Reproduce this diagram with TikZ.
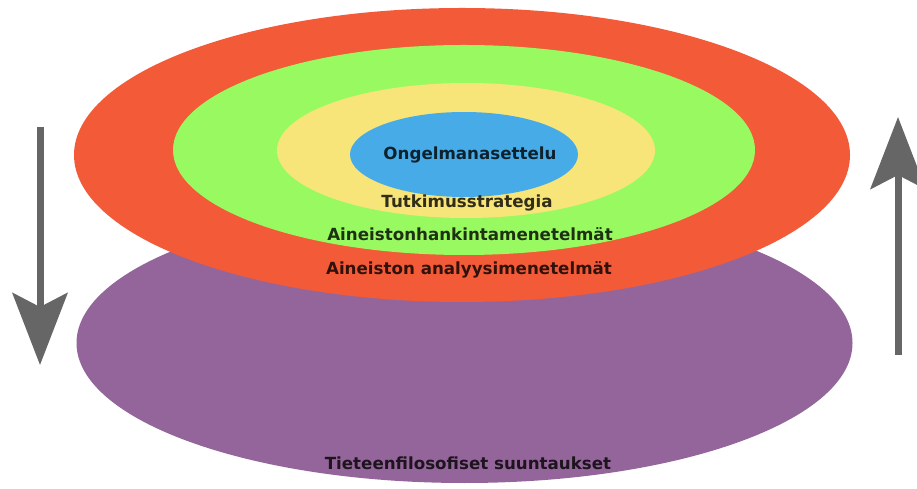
\documentclass[tikz,border=0pt]{standalone}
\usepackage{fontspec}
\setsansfont{DejaVu Sans}
\usetikzlibrary{arrows.meta}
\definecolor{tasoPun}{RGB}{242,90,56}
\definecolor{tasoVih}{RGB}{152,250,96}
\definecolor{tasoKel}{RGB}{247,229,122}
\definecolor{tasoSin}{RGB}{71,171,232}
\definecolor{tasoVio}{RGB}{148,101,154}
\definecolor{nuoli}{RGB}{102,102,102}

\begin{document}
\begin{tikzpicture}[
	lbl/.style={font=\sffamily\bfseries\fontsize{9.5}{11}\selectfont, text=black, text opacity=0.8, inner sep=0pt},
	isonuoli/.style={draw=nuoli, line width=0.14cm, -{Stealth[length=1.44cm, width=1.1cm, inset=0.28cm]}}
]
			%%%%% START %%%%%
			\useasboundingbox (0, 0) rectangle (18.34, 9.76);
			
			\fill[tasoVio] (9.29, 2.90) ellipse (7.76 and 2.80);
			
			\fill[tasoPun] (9.24, 6.66) ellipse (7.76 and 2.94);
			\fill[tasoVih] (9.28, 6.76) ellipse (5.82 and 2.10);
			\fill[tasoKel] (9.32, 6.75) ellipse (3.78 and 1.35);
			\fill[tasoSin] (9.28, 6.67) ellipse (2.28 and 0.85);
			
			\node[lbl] (ongelma) at (9.40, 6.66) {Ongelmanasettelu};
			\node[lbl] (strategia) at (9.34, 5.70) {Tutkimusstrategia};
			\node[lbl] (hankinta) at (9.40, 5.08) {Aineistonhankintamenetelmät};
			\node[lbl] (analyysi) at (9.38, 4.36) {Aineiston analyysimenetelmät};
			\node[lbl] (filosofia) at (9.36, 0.50) {Tieteenfilosofiset suuntaukset};
			
			\coordinate (alas-a) at (0.80, 7.22);
			\coordinate (alas-b) at (0.80, 2.46);
			\draw[isonuoli] (alas-a) -- (alas-b);
			
			\coordinate (ylos-a) at (17.96, 2.66);
			\coordinate (ylos-b) at (17.96, 7.42);
			\draw[isonuoli] (ylos-a) -- (ylos-b);
			%%%%% END %%%%%
\end{tikzpicture}
\end{document}
